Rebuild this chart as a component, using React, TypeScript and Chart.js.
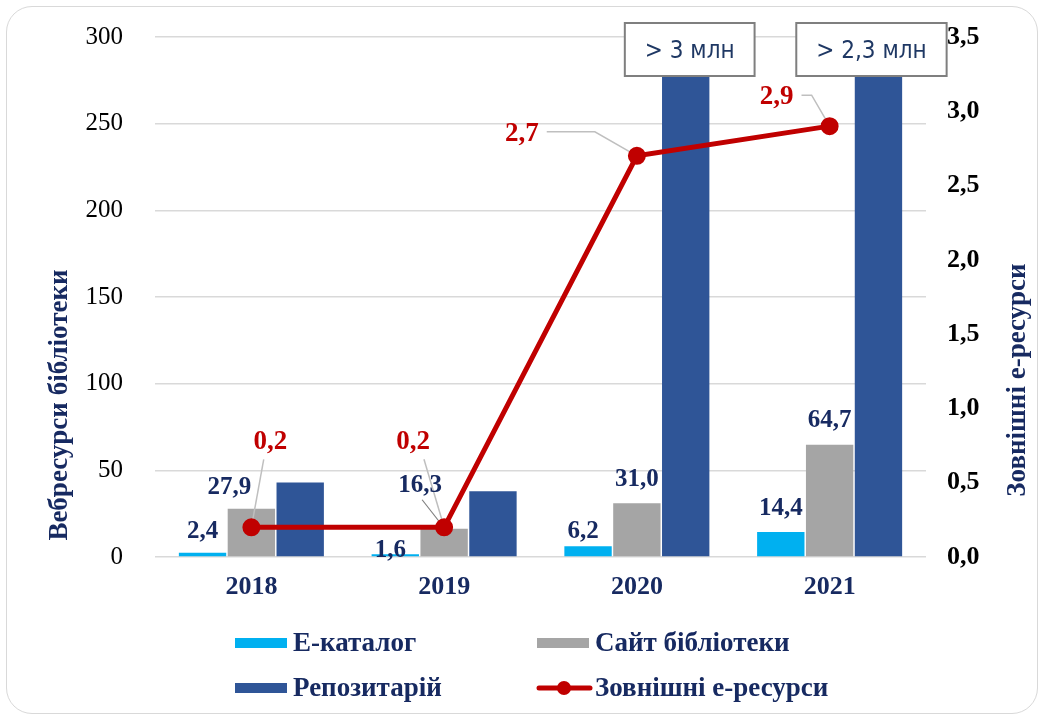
import React, { useEffect, useRef } from "react";
import { Chart, registerables } from "chart.js";

Chart.register(...registerables);

// ---- data ----
const categories = ["2018", "2019", "2020", "2021"];
const eCatalog = [2.4, 1.6, 6.2, 14.4];
const librarySite = [27.9, 16.3, 31.0, 64.7];
// 2020 and 2021 exceed the axis ("> 3 млн", "> 2,3 млн"): bars are cut at the top
const repository = [43, 38, 3000, 2300];
const externalResources = [0.2, 0.2, 2.7, 2.9];
const repositoryBoxLabels = ["", "", "> 3 млн", "> 2,3 млн"];
const seriesNames = ["Е-каталог", "Сайт бібліотеки", "Репозитарій", "Зовнішні е-ресурси"];
const leftAxisTitle = "Вебресурси бібліотеки";
const rightAxisTitle = "Зовнішні е-ресурси";
const leftAxisMax = 300;
const leftAxisStep = 50;
const rightAxisMax = 3.5;
const rightAxisStep = 0.5;

// ---- styles ----
const COLORS = ["#00B0F0", "#A5A5A5", "#2F5597", "#C00000"];
const NAVY = "#172A61";
const RED = "#C00000";
const SERIF = "'Liberation Serif', 'Times New Roman', serif";
const NARROW = "'Liberation Sans Narrow', 'DejaVu Sans Condensed', 'Liberation Sans', sans-serif";

// label offsets (pixels) for bar value labels
const eCatalogLabelDx = [0, -5, -5, 0];
const eCatalogLabelDy = [-21, -4, -15, -23];
const siteLabelDx = [-22, -24, 0, 0];
const siteLabelDy = [-21, -43, -24, -24];
// label offsets for line labels
const lineLabelDx = [19, -31, -115, -53];
const lineLabelDy = [-85, -85, -22, -29];
const lineLeaderKind = ["below", "below", "side", "side"];
const lineLeaderElbow = [0, 0, 38, 14];
const boxDx = [0, 0, 4, -7];

const fmt1 = (v: number) => v.toFixed(1).replace(".", ",");

const noPad = (scale: any) => {
  scale.paddingTop = 0;
  scale.paddingBottom = 0;
  scale.paddingLeft = 0;
  scale.paddingRight = 0;
};

const overlayPlugin = {
  id: "overlay",
  beforeDatasetDraw(chart: any, args: any) {
    if (args.index !== 3) return;
    // leader lines for line labels (under the line)
    const ctx = chart.ctx;
    const meta = chart.getDatasetMeta(3);
    ctx.save();
    ctx.font = `bold 27px ${SERIF}`;
    ctx.strokeStyle = "#BFBFBF";
    ctx.lineWidth = 1.5;
    meta.data.forEach((pt: any, i: number) => {
      const lx = pt.x + lineLabelDx[i];
      const ly = pt.y + lineLabelDy[i];
      ctx.beginPath();
      if (lineLeaderKind[i] === "below") {
        ctx.moveTo(lx + (pt.x - lx) * 0.35, ly + 17);
        ctx.lineTo(pt.x, pt.y);
      } else {
        const w = ctx.measureText(fmt1(externalResources[i])).width;
        const sx = lx + w / 2 + 8;
        ctx.moveTo(sx, ly - 2);
        ctx.lineTo(pt.x - lineLeaderElbow[i] - 4, ly - 2);
        ctx.lineTo(pt.x, pt.y);
      }
      ctx.stroke();
    });
    // dark leader from "16,3" label to its bar
    const siteMeta = chart.getDatasetMeta(1);
    const b = siteMeta.data[1];
    if (b) {
      ctx.strokeStyle = "#7F7F7F";
      ctx.lineWidth = 1.2;
      ctx.beginPath();
      ctx.moveTo(b.x + siteLabelDx[1] + 2, b.y + siteLabelDy[1] + 14);
      ctx.lineTo(b.x - 4, b.y - 6);
      ctx.stroke();
    }
    ctx.restore();
  },
  afterDatasetsDraw(chart: any) {
    const ctx = chart.ctx;
    ctx.save();
    ctx.textAlign = "center";
    ctx.textBaseline = "middle";
    // bar value labels
    ctx.font = `bold 25px ${SERIF}`;
    ctx.fillStyle = NAVY;
    const m0 = chart.getDatasetMeta(0);
    m0.data.forEach((bar: any, i: number) => {
      ctx.fillText(fmt1(eCatalog[i]), bar.x + eCatalogLabelDx[i], bar.y + eCatalogLabelDy[i]);
    });
    const m1 = chart.getDatasetMeta(1);
    m1.data.forEach((bar: any, i: number) => {
      ctx.fillText(fmt1(librarySite[i]), bar.x + siteLabelDx[i], bar.y + siteLabelDy[i]);
    });
    // line labels
    ctx.font = `bold 27px ${SERIF}`;
    ctx.fillStyle = RED;
    const m3 = chart.getDatasetMeta(3);
    m3.data.forEach((pt: any, i: number) => {
      ctx.fillText(fmt1(externalResources[i]), pt.x + lineLabelDx[i], pt.y + lineLabelDy[i]);
    });
    // boxes over the cut repository bars
    const m2 = chart.getDatasetMeta(2);
    const top = chart.chartArea.top;
    ctx.font = `24px ${NARROW}`;
    m2.data.forEach((bar: any, i: number) => {
      const t = repositoryBoxLabels[i];
      if (!t) return;
      const w = ctx.measureText(t).width + 40;
      const x0 = bar.x + boxDx[i] - w / 2;
      const y0 = top - 14;
      const h = 53;
      ctx.fillStyle = "#FFFFFF";
      ctx.fillRect(x0, y0, w, h);
      ctx.strokeStyle = "#7F7F7F";
      ctx.lineWidth = 2;
      ctx.strokeRect(x0, y0, w, h);
      ctx.fillStyle = "#1F3864";
      ctx.fillText(t, x0 + w / 2, y0 + h / 2 + 2);
    });
    ctx.restore();
  },
  afterDraw(chart: any) {
    const ctx = chart.ctx;
    ctx.save();
    // axis titles
    ctx.fillStyle = NAVY;
    ctx.font = `bold 27px ${SERIF}`;
    ctx.textAlign = "center";
    ctx.textBaseline = "middle";
    ctx.save();
    ctx.translate(60, 405);
    ctx.rotate(-Math.PI / 2);
    ctx.fillText(leftAxisTitle, 0, 0);
    ctx.restore();
    ctx.save();
    ctx.translate(1018, 380);
    ctx.rotate(-Math.PI / 2);
    ctx.fillText(rightAxisTitle, 0, 0);
    ctx.restore();

    // legend (2 columns)
    const cols = [235, 537];
    const rows = [643, 688];
    ctx.font = `bold 27px ${SERIF}`;
    ctx.textAlign = "left";
    chart.data.datasets.forEach((ds: any, i: number) => {
      const x = cols[i % 2];
      const y = rows[Math.floor(i / 2)];
      if (ds.type === "line") {
        ctx.strokeStyle = ds.borderColor;
        ctx.lineWidth = 5;
        ctx.lineCap = "round";
        ctx.beginPath();
        ctx.moveTo(x + 2, y);
        ctx.lineTo(x + 53, y);
        ctx.stroke();
        ctx.fillStyle = ds.borderColor;
        ctx.beginPath();
        ctx.arc(x + 27, y, 7, 0, Math.PI * 2);
        ctx.fill();
      } else {
        ctx.fillStyle = ds.backgroundColor;
        ctx.fillRect(x, y - 5, 52, 10);
      }
      ctx.fillStyle = NAVY;
      ctx.fillText(ds.label, x + 58, y + 1);
    });
    ctx.restore();
  },
};

export default function App() {
  const ref = useRef<HTMLCanvasElement | null>(null);

  useEffect(() => {
    if (!ref.current) return;
    const chart = new Chart(ref.current, {
      type: "bar",
      data: {
        labels: categories,
        datasets: [
          {
            type: "bar",
            label: seriesNames[0],
            data: eCatalog,
            backgroundColor: COLORS[0],
            yAxisID: "y",
            order: 1,
            categoryPercentage: 0.76,
            barPercentage: 0.97,
          },
          {
            type: "bar",
            label: seriesNames[1],
            data: librarySite,
            backgroundColor: COLORS[1],
            yAxisID: "y",
            order: 1,
            categoryPercentage: 0.76,
            barPercentage: 0.97,
          },
          {
            type: "bar",
            label: seriesNames[2],
            data: repository,
            backgroundColor: COLORS[2],
            yAxisID: "y",
            order: 1,
            categoryPercentage: 0.76,
            barPercentage: 0.97,
          },
          {
            type: "line",
            label: seriesNames[3],
            data: externalResources,
            borderColor: COLORS[3],
            backgroundColor: COLORS[3],
            borderWidth: 5,
            pointRadius: 6.5,
            pointBackgroundColor: COLORS[3],
            pointBorderColor: COLORS[3],
            tension: 0,
            yAxisID: "y1",
            order: 0,
          } as any,
        ],
      },
      options: {
        responsive: false,
        animation: false,
        devicePixelRatio: 1,
        layout: { padding: { top: 37, left: 0, right: 0, bottom: 0 } },
        plugins: {
          legend: { display: false },
          tooltip: { enabled: false },
        },
        scales: {
          x: {
            grid: { display: false, drawTicks: false },
            border: { display: false },
            ticks: {
              padding: 15,
              color: NAVY,
              font: { family: SERIF, size: 26, weight: "bold" },
            },
            afterFit(scale: any) {
              scale.height = 163;
              noPad(scale);
            },
          },
          y: {
            position: "left",
            min: 0,
            max: leftAxisMax,
            grid: { color: "#D9D9D9", lineWidth: 1.5, drawTicks: false },
            border: { display: false },
            ticks: {
              stepSize: leftAxisStep,
              padding: 32,
              color: "#000",
              font: { family: SERIF, size: 25 },
            },
            afterFit(scale: any) {
              scale.width = 155;
              noPad(scale);
            },
          },
          y1: {
            position: "right",
            min: 0,
            max: rightAxisMax,
            grid: { display: false, drawTicks: false },
            border: { display: false },
            ticks: {
              stepSize: rightAxisStep,
              padding: 21,
              color: "#000",
              font: { family: SERIF, size: 26, weight: "bold" },
              callback: (v: any) => fmt1(Number(v)),
            },
            afterFit(scale: any) {
              scale.width = 120;
              noPad(scale);
            },
          },
        },
      } as any,
      plugins: [overlayPlugin],
    });
    return () => chart.destroy();
  }, []);

  return (
    <div
      style={{
        position: "fixed",
        left: 0,
        top: 0,
        width: 1046,
        height: 720,
        background: "#fff",
        overflow: "hidden",
      }}
    >
      <div
        style={{
          position: "absolute",
          left: 6,
          top: 6,
          width: 1032,
          height: 708,
          border: "1.5px solid #D9D9D9",
          borderRadius: 26,
          boxSizing: "border-box",
        }}
      />
      <canvas
        ref={ref}
        width={1046}
        height={720}
        style={{ position: "absolute", left: 0, top: 0, width: 1046, height: 720 }}
      />
    </div>
  );
}
